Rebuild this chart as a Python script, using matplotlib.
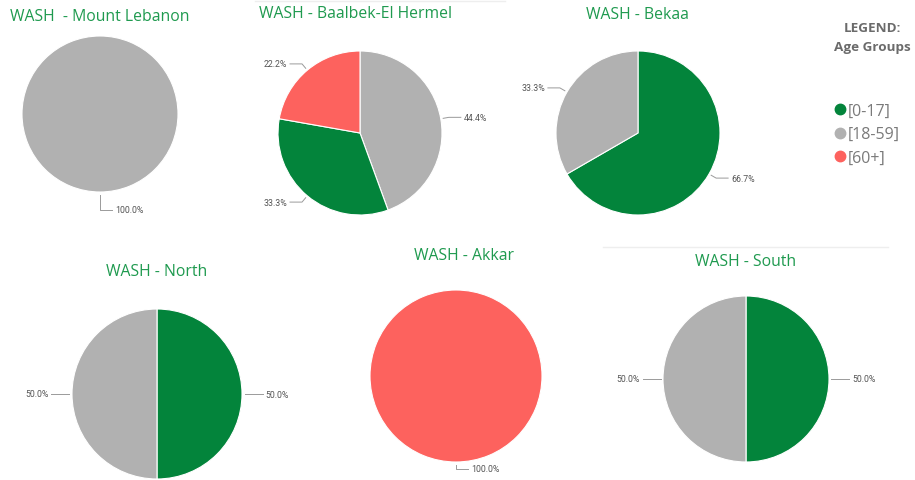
import numpy as np
import matplotlib.pyplot as plt
from matplotlib.lines import Line2D

# age groups and colours
groups = ['[0-17]', '[18-59]', '[60+]']
colors = ['#03843b', '#b1b1b1', '#fd625e']

# counts per governorate (same order as groups)
regions = ['WASH  - Mount Lebanon', 'WASH - Baalbek-El Hermel', 'WASH - Bekaa',
           'WASH - North', 'WASH - Akkar', 'WASH - South']
mount_lebanon = [0, 1, 0]
baalbek = [3, 4, 2]
bekaa = [2, 1, 0]
north = [1, 1, 0]
akkar = [0, 0, 1]
south = [1, 1, 0]
counts = [mount_lebanon, baalbek, bekaa, north, akkar, south]

W, H = 915, 481
fig = plt.figure(figsize=(W / 100, H / 100), dpi=100)

# pixel layout: pie centre, radius, title position, title alignment, drop of the 100% label
layout = [
    (100, 115, 78, 10, 17, 'left', 18),
    (360, 134, 82, 259, 14, 'left', 8),
    (638, 134, 82, 586, 15, 'left', 8),
    (157, 395, 85, 157, 272, 'center', 8),
    (456, 377, 86, 464, 256, 'center', 7),
    (746, 380, 83, 746, 262, 'center', 8),
]

title_color = '#1f9a4f'
label_color = '#555555'
line_color = '#9a9a9a'


def draw_pie(vals, cx, cy, r, drop):
    ax = fig.add_axes([(cx - r) / W, 1 - (cy + r) / H, 2 * r / W, 2 * r / H])

    # Power BI sorts slices by value, largest first, clockwise from the top
    idx = [i for i in sorted(range(len(vals)), key=lambda i: -vals[i]) if vals[i] > 0]
    sizes = [vals[i] for i in idx]
    wedges, _ = ax.pie(sizes, colors=[colors[i] for i in idx], radius=1,
                       startangle=90, counterclock=False,
                       wedgeprops=dict(edgecolor='white', linewidth=0.8))
    ax.set_xlim(-1, 1)
    ax.set_ylim(-1, 1)
    ax.axis('off')
    total = sum(sizes)
    for w, v in zip(wedges, sizes):
        ang = np.deg2rad((w.theta1 + w.theta2) / 2)
        x0, y0 = np.cos(ang) * 1.03, np.sin(ang) * 1.03
        x1, y1 = np.cos(ang) * 1.1, np.sin(ang) * 1.1
        if len(sizes) == 1:
            x0, y0, x1, y1 = 0, -1.04, 0, -1 - drop / r
        side = 1 if np.cos(ang) >= -1e-6 else -1
        x2 = x1 + side * 12 / r
        ax.plot([x0, x1, x2], [y0, y1, y1], color=line_color, lw=0.7, clip_on=False)
        ax.text(x2 + side * 3 / r, y1, f'{v / total * 100:.1f}%',
                ha='left' if side > 0 else 'right', va='center',
                fontsize=6.3, family='Roboto', color=label_color)


for name, vals, (cx, cy, r, tx, ty, ha, drop) in zip(regions, counts, layout):
    draw_pie(vals, cx, cy, r, drop)
    fig.text(tx / W, 1 - ty / H, name, ha=ha, va='center',
             fontsize=11.3, family='Open Sans', color=title_color)

# faint panel separators
fig.add_artist(Line2D([255 / W, 505 / W], [1 - 2 / H, 1 - 2 / H], color='#eeeeee', lw=1))
fig.add_artist(Line2D([603 / W, 888 / W], [1 - 248 / H, 1 - 248 / H], color='#eeeeee', lw=1))

# legend
fig.text(872 / W, 1 - 38 / H, 'LEGEND:\nAge Groups', ha='center', va='center',
         fontsize=9.7, fontweight='bold', family='Open Sans', color='#6b6b6b',
         linespacing=1.55)
handles = [Line2D([], [], marker='o', ls='', color=c, markersize=7.5) for c in colors]
leg = fig.legend(handles, groups, loc='upper left', bbox_to_anchor=(832 / W, 1 - 104 / H),
                 frameon=False, handletextpad=0.0, handlelength=1.0,
                 labelspacing=0.45, prop={'family': 'Open Sans', 'size': 11.5},
                 borderaxespad=0, borderpad=0)
for t in leg.get_texts():
    t.set_color('#7a7a7a')

plt.savefig('out.png', dpi=100)
